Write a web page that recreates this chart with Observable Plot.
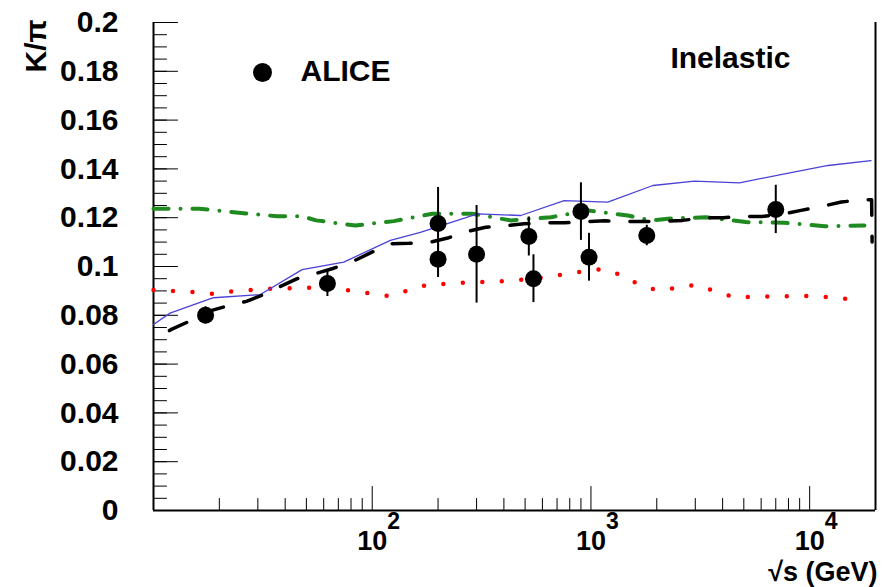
<!DOCTYPE html>
<html>
<head>
<meta charset="utf-8">
<script src="https://cdn.jsdelivr.net/npm/d3@7"></script>
<script src="https://cdn.jsdelivr.net/npm/@observablehq/plot@0.6"></script>
<style>
  html, body { margin: 0; padding: 0; background: #fff; }
</style>
</head>
<body>
<div id="chart"></div>
<script>
// K/pi ratio in inelastic collisions versus sqrt(s)

const xDomain = [10, 20000];
const yDomain = [0, 0.2];

// ALICE measurements
const aliceE   = [17.3, 62.4, 200, 200, 300, 520, 546, 900, 980, 1800, 7000];
const aliceK   = [0.0800, 0.0930, 0.1176, 0.1030, 0.1050, 0.1123, 0.0950, 0.1225, 0.1038, 0.1127, 0.1234];
const aliceErr = [0.0035, 0.0053, 0.0148, 0.0075, 0.0200, 0.0080, 0.0098, 0.0118, 0.0098, 0.0042, 0.0099];

// model curves
const blueE = [10, 11.9, 18.8, 30.8, 47.8, 74.1, 121, 166, 303, 478, 754, 1194, 1920, 2974, 4779, 7685, 12150, 19070];
const blueK = [0.0762, 0.0809, 0.0872, 0.0885, 0.0987, 0.1018, 0.1107, 0.1140, 0.1216, 0.1209, 0.1270, 0.1264, 0.1332, 0.1350, 0.1343, 0.1380, 0.1414, 0.1434];

const blackE = [10, 12.0, 14.3, 17.8, 21.3, 26.6, 31.7, 38.0, 45.4, 56.0, 66.7, 82.2, 98.1, 121, 147, 185, 224, 277, 330, 415, 494, 620, 758, 950, 1158, 1440, 1746, 2155, 2625, 3303, 4026, 4973, 6050, 7700, 9130, 11290, 13950, 17280, 19200, 19300];
const blackK = [0.0695, 0.0741, 0.0772, 0.0816, 0.0836, 0.0857, 0.0884, 0.0918, 0.0950, 0.0973, 0.0993, 0.1022, 0.1056, 0.1093, 0.1095, 0.1100, 0.1118, 0.1145, 0.1161, 0.1168, 0.1175, 0.1179, 0.1179, 0.1184, 0.1187, 0.1184, 0.1184, 0.1186, 0.1189, 0.1200, 0.1200, 0.1205, 0.1205, 0.1216, 0.1230, 0.1246, 0.1264, 0.1274, 0.1274, 0.1100];

const greenE = [10, 16.2, 24.5, 36.7, 47.8, 55.4, 83.6, 125.5, 188, 287, 430, 656, 967, 1475, 1890, 2250, 3360, 5107, 7685, 11720, 17800];
const greenK = [0.1237, 0.1237, 0.1220, 0.1206, 0.1206, 0.1189, 0.1168, 0.1186, 0.1216, 0.1216, 0.1189, 0.1202, 0.1230, 0.1209, 0.1188, 0.1196, 0.1202, 0.1182, 0.1179, 0.1165, 0.1168];

const redE = [10, 15.1, 18.5, 22.7, 34.5, 52.1, 79.0, 119.9, 146.4, 178, 268, 405, 613, 923, 1131, 1387, 1648, 2005, 2470, 3015, 3710, 4510, 6800, 10240, 15500];
const redK = [0.0904, 0.0895, 0.0888, 0.0898, 0.0909, 0.0913, 0.0902, 0.0878, 0.0902, 0.0925, 0.0934, 0.0940, 0.0955, 0.0980, 0.0990, 0.0964, 0.0927, 0.0902, 0.0913, 0.0925, 0.0899, 0.0874, 0.0877, 0.0880, 0.0865];

// axis ticks and labels
const xMajor = [100, 1000, 10000];
const xMajorBase = ["10", "10", "10"];
const xMajorExp = ["2", "3", "4"];
const xMinor = [20, 30, 40, 50, 60, 70, 80, 90,
                200, 300, 400, 500, 600, 700, 800, 900,
                2000, 3000, 4000, 5000, 6000, 7000, 8000, 9000];
const yMajor = [0, 0.02, 0.04, 0.06, 0.08, 0.1, 0.12, 0.14, 0.16, 0.18, 0.2];
const yMajorLabels = ["0", "0.02", "0.04", "0.06", "0.08", "0.1", "0.12", "0.14", "0.16", "0.18", "0.2"];
const yMinor = d3.range(0, 0.2001, 0.005);

const legendLabels = ["ALICE"];
const panelLabel = ["Inelastic"];

const zipSeries = (E, K) => E.map((e, i) => ({e, k: K[i]}));
const alice = aliceE.map((e, i) => ({e, k: aliceK[i], err: aliceErr[i]}));

// inward-pointing tick shape for vector marks
const tickShape = {draw(ctx, l) { ctx.moveTo(0, 0); ctx.lineTo(0, -l); }};

const font = "'Liberation Sans', Arial, Helvetica, sans-serif";

const chart = Plot.plot({
  width: 888,
  height: 587,
  marginLeft: 153,
  marginRight: 13,
  marginTop: 22,
  marginBottom: 77,
  style: {fontFamily: font, background: "#fff", overflow: "visible"},
  x: {type: "log", domain: xDomain, axis: null},
  y: {domain: yDomain, axis: null},
  marks: [
    // frame
    Plot.ruleX([xDomain[0]], {stroke: "black", strokeWidth: 2}),
    Plot.ruleX([xDomain[1]], {stroke: "black", strokeWidth: 2}),
    Plot.ruleY([yDomain[0]], {stroke: "black", strokeWidth: 2}),

    // x ticks
    Plot.vector(xMinor, {x: d => d, frameAnchor: "bottom", anchor: "start", rotate: 0, length: 12, shape: tickShape, stroke: "black", strokeWidth: 1}),
    Plot.vector(xMajor, {x: d => d, frameAnchor: "bottom", anchor: "start", rotate: 0, length: 24, shape: tickShape, stroke: "black", strokeWidth: 1}),
    // y ticks
    Plot.vector(yMinor, {y: d => d, frameAnchor: "left", anchor: "start", rotate: 90, length: 13, shape: tickShape, stroke: "black", strokeWidth: 1}),
    Plot.vector(yMajor, {y: d => d, frameAnchor: "left", anchor: "start", rotate: 90, length: 24, shape: tickShape, stroke: "black", strokeWidth: 1}),

    // tick labels
    Plot.text(yMajor, {y: d => d, text: (d, i) => yMajorLabels[i], frameAnchor: "left", dx: -35, textAnchor: "end", lineAnchor: "middle", fontSize: 30, fontWeight: "bold", fill: "black"}),
    Plot.text(xMajor, {x: d => d, text: (d, i) => xMajorBase[i], frameAnchor: "bottom", dy: 31, textAnchor: "middle", lineAnchor: "middle", fontSize: 27, fontWeight: "bold", fill: "black"}),
    Plot.text(xMajor, {x: d => d, text: (d, i) => xMajorExp[i], frameAnchor: "bottom", dx: 15, dy: 11, textAnchor: "start", lineAnchor: "middle", fontSize: 23, fontWeight: "bold", fill: "black"}),

    // axis titles
    Plot.text(["K/π"], {frameAnchor: "top-left", dx: -117, dy: -3, rotate: -90, textAnchor: "end", lineAnchor: "middle", fontSize: 30, fontWeight: "bold", fill: "black", ariaLabel: "y-title"}),
    Plot.text(["√s (GeV)"], {frameAnchor: "bottom-right", dx: 2, dy: 62, textAnchor: "end", lineAnchor: "middle", fontSize: 27, fontWeight: "bold", fill: "black"}),

    // model curves
    Plot.line(zipSeries(redE, redK), {x: "e", y: "k", stroke: "#ff0000", strokeWidth: 4.5, strokeLinecap: "round", strokeDasharray: "0 19.5"}),
    Plot.line(zipSeries(greenE, greenK), {x: "e", y: "k", stroke: "#1f8a1f", strokeWidth: 4, strokeLinecap: "round", strokeDasharray: "15 12 0 12"}),
    Plot.line(zipSeries(blueE, blueK), {x: "e", y: "k", stroke: "#4a42d6", strokeWidth: 1.3}),
    Plot.line(zipSeries(blackE, blackK), {x: "e", y: "k", stroke: "black", strokeWidth: 3.5, strokeDasharray: "19 21", strokeDashoffset: 21}),

    // ALICE points with error bars
    Plot.ruleX(alice, {x: "e", y1: d => d.k - d.err, y2: d => d.k + d.err, stroke: "black", strokeWidth: 2}),
    Plot.dot(alice, {x: "e", y: "k", r: 8.5, fill: "black"}),

    // legend
    Plot.dot(legendLabels, {frameAnchor: "top-left", dx: 109, dy: 50, r: 9.5, fill: "black"}),
    Plot.text(legendLabels, {frameAnchor: "top-left", dx: 147, dy: 49, textAnchor: "start", lineAnchor: "middle", fontSize: 30, fontWeight: "bold", fill: "black"}),
    Plot.text(panelLabel, {frameAnchor: "top-right", dx: -85, dy: 36, textAnchor: "end", lineAnchor: "middle", fontSize: 30, fontWeight: "bold", fill: "black"})
  ]
});

// set the pi of the y title in a serif face
d3.select(chart).selectAll('g[aria-label="y-title"] text').each(function () {
  const t = d3.select(this);
  t.text(null);
  t.append("tspan").text("K/");
  t.append("tspan").attr("font-family", "'Liberation Serif', 'DejaVu Serif', serif").attr("font-weight", "normal").text("π");
});

document.getElementById("chart").appendChild(chart);
</script>
</body>
</html>
